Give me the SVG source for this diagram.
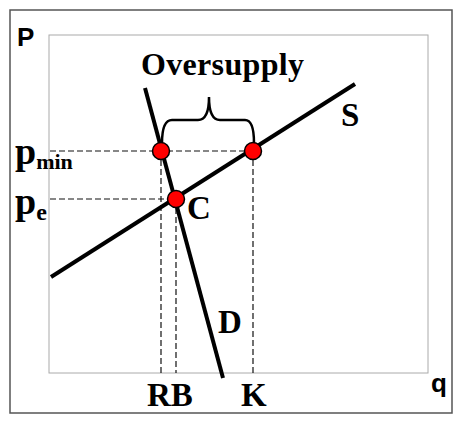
<svg xmlns="http://www.w3.org/2000/svg" width="465" height="433" viewBox="0 0 465 433">
<style>
.lbl{font-family:"Liberation Serif","Times New Roman",serif;font-weight:bold;fill:#000}
.ax{font-family:"Liberation Sans",Arial,sans-serif;font-weight:bold;font-size:26px;fill:#000}
.curve{stroke:#000;stroke-width:4;fill:none;stroke-linecap:butt}
.dash{stroke:#111;stroke-width:1.2;stroke-dasharray:6,3;fill:none}
.pt{fill:#f00;stroke:#000;stroke-width:1.5}
</style>
<rect width="465" height="433" fill="#fff"/>
<rect x="10" y="10" width="442" height="403" fill="none" stroke="#555" stroke-width="1.5"/>
<rect x="49" y="35" width="379" height="338" fill="none" stroke="#aaa" stroke-width="1"/>
<text class="ax" x="17" y="46">P</text>
<text class="ax" x="431" y="392">q</text>
<g id="connectors">
<path class="dash" d="M50,151 H253 M50,199 H176 M161,151 V373 M176,199 V373 M253,151 V373"/>
<path d="M162,143 Q162,120 172,120 L198,120 Q209,120 209,97 Q209,120 220,120 L245,120 Q254,120 254,143" fill="none" stroke="#000" stroke-width="2.5"/>
</g>
<g id="S">
<line class="curve" x1="51" y1="277" x2="355" y2="84"/>
<text class="lbl" x="341" y="126" font-size="33">S</text>
</g>
<g id="D">
<line class="curve" x1="145" y1="88" x2="223" y2="378"/>
<text class="lbl" x="218" y="333" font-size="33">D</text>
</g>
<g id="pt-min-D"><circle class="pt" cx="161" cy="151" r="8.5"/></g>
<g id="pt-min-S"><circle class="pt" cx="253" cy="151" r="8.5"/></g>
<g id="C">
<circle class="pt" cx="176" cy="199" r="8.5"/>
<text class="lbl" x="187" y="219" font-size="33">C</text>
</g>
<g id="oversupply"><text class="lbl" x="141" y="75" font-size="32" textLength="163">Oversupply</text></g>
<g id="pmin"><text class="lbl" x="15" y="164" font-size="38">p<tspan font-size="22" dy="5">min</tspan></text></g>
<g id="pe"><text class="lbl" x="15" y="214" font-size="38">p<tspan font-size="24" dy="6">e</tspan></text></g>
<g id="RB"><text class="lbl" x="147" y="406" font-size="33">RB</text></g>
<g id="K"><text class="lbl" x="241" y="406" font-size="33">K</text></g>
</svg>
